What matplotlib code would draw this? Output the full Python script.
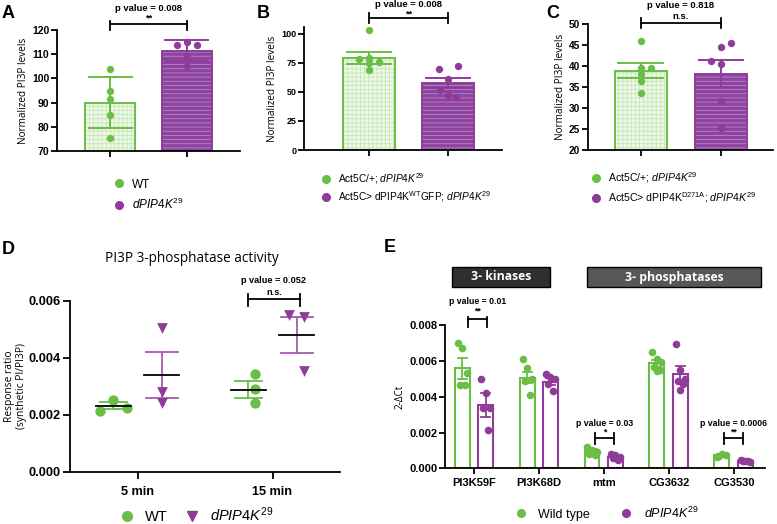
import matplotlib
matplotlib.use("Agg")
import matplotlib.pyplot as plt
from matplotlib.lines import Line2D
from matplotlib.patches import Rectangle
import numpy as np

plt.rcParams['font.family'] = ['Liberation Sans', 'DejaVu Sans']
plt.rcParams['mathtext.fontset'] = 'custom'
plt.rcParams['mathtext.rm'] = 'Liberation Sans'
plt.rcParams['mathtext.it'] = 'Liberation Sans:italic'
plt.rcParams['mathtext.bf'] = 'Liberation Sans:bold'
plt.rcParams['hatch.linewidth'] = 0.6

# ---------------- data ----------------
# A
a_wt = [104, 94.7, 91.5, 85, 75.5]
a_mut = [114, 115, 114, 109, 105]
a_mean = [90, 111.5]
a_err = [10.6, 4.2]
a_pval = "p value = 0.008"
a_star = "**"

# B
b_wt = [103, 78, 79, 76, 75, 69]
b_mut = [69.5, 72.4, 61.2, 52, 47, 46]
b_mean = [79, 58]
b_err = [5.3, 4.2]
b_pval = "p value = 0.008"
b_star = "**"

# C
c_wt = [46.0, 39.5, 39.6, 38.1, 36.5, 33.6]
c_mut = [45.5, 44.5, 41.3, 40.5, 31.7, 25.3]
c_mean = [38.9, 38.2]
c_err = [1.7, 3.3]
c_pval = "p value = 0.818"
c_star = "n.s."

# D
d_times = ["5 min", "15 min"]
d_wt = [[0.00214, 0.00252, 0.00225], [0.00343, 0.00289, 0.00240]]
d_mut = [[0.00503, 0.00281, 0.00242], [0.00550, 0.00544, 0.00354]]
d_wt_mean = [0.00232, 0.00287]
d_wt_err = [0.00011, 0.00030]
d_mut_mean = [0.00339, 0.00480]
d_mut_lo = [0.00258, 0.00415]
d_mut_hi = [0.00421, 0.00542]
d_pval = "p value = 0.052"
d_star = "n.s."

# E
e_genes = ["PI3K59F", "PI3K68D", "mtm", "CG3632", "CG3530"]
e_wt = [[0.0070, 0.00671, 0.00531, 0.00466, 0.00466],
        [0.0061, 0.0056, 0.0050, 0.0049, 0.0041],
        [0.00121, 0.00102, 0.00093, 0.00078, 0.00074],
        [0.00649, 0.0061, 0.00596, 0.00568, 0.0055, 0.00546],
        [0.00065, 0.0008, 0.00074, 0.0007]]
e_mut = [[0.0050, 0.0042, 0.00336, 0.00336, 0.00214],
         [0.0053, 0.0051, 0.0050, 0.0047, 0.0043],
         [0.0008, 0.00074, 0.00065, 0.0006, 0.00046],
         [0.00695, 0.0055, 0.00498, 0.0049, 0.00471, 0.00438],
         [0.00045, 0.0004, 0.00038, 0.00042, 0.0004]]
e_wt_mean = [0.0056, 0.00507, 0.00100, 0.00587, 0.00074]
e_wt_err = [0.00058, 0.0003, 0.0001, 0.00018, 0.00004]
e_mut_mean = [0.00354, 0.00485, 0.00066, 0.00527, 0.00040]
e_mut_err = [0.00069, 0.00018, 0.00006, 0.00045, 0.00002]
e_pvals = {0: ("p value = 0.01", "**"), 2: ("p value = 0.03", "*"), 4: ("p value = 0.0006", "**")}

# ---------------- style ----------------
GREEN = '#6abd45'
PURPLE = '#8e3c97'
GREEN_FILL = '#eef8e8'
GREEN_HATCH = '#c6e7b5'
PURPLE_FILL = '#8f43a0'
PURPLE_HATCH = '#b88ac2'
W, H = 777, 524

fig = plt.figure(figsize=(W / 100, H / 100), dpi=100)


def add_ax(left, top, right, bottom):
    return fig.add_axes([left / W, 1 - bottom / H, (right - left) / W, (bottom - top) / H])


def style(ax, size):
    for s in ['top', 'right']:
        ax.spines[s].set_visible(False)
    for s in ['left', 'bottom']:
        ax.spines[s].set_linewidth(1.3)
    ax.tick_params(width=1.3, length=4, labelsize=size, pad=1.5)
    for t in ax.get_yticklabels() + ax.get_xticklabels():
        t.set_fontweight('bold')


def bracket(ax, x0, x1, yline, ylo, yhi, ytxt1, ytxt2, p, star, size):
    ax.plot([x0, x1], [yline, yline], color='k', lw=1.3, clip_on=False)
    ax.plot([x0, x0], [ylo, yhi], color='k', lw=1.3, clip_on=False)
    ax.plot([x1, x1], [ylo, yhi], color='k', lw=1.3, clip_on=False)
    xm = (x0 + x1) / 2
    ax.text(xm, ytxt1, p, ha='center', va='center', fontsize=size, fontweight='bold')
    ax.text(xm, ytxt2, star, ha='center', va='center', fontsize=size, fontweight='bold')


def hatched_bars(ax, means, width):
    ax.bar(0, means[0], width, color=GREEN_FILL, edgecolor=GREEN_HATCH, hatch='++++', linewidth=0, zorder=1)
    ax.bar(1, means[1], width, color=PURPLE_FILL, edgecolor=PURPLE_HATCH, hatch='----', linewidth=0, zorder=1)
    ax.bar([0, 1], means, width, fill=False, edgecolor=[GREEN, PURPLE], linewidth=1.4, zorder=2)


def err(ax, x, m, lo, hi, cap, color, lw=1.4, z=3):
    ax.plot([x, x], [lo, hi], color=color, lw=lw, zorder=z)
    ax.plot([x - cap, x + cap], [lo, lo], color=color, lw=lw, zorder=z)
    ax.plot([x - cap, x + cap], [hi, hi], color=color, lw=lw, zorder=z)


def dots(ax, x, vals, offs, color, s, marker='o'):
    xs = [x + offs[i % len(offs)] for i in range(len(vals))]
    ax.scatter(xs, vals, s=s, color=color, marker=marker, zorder=4, linewidths=0)


def mut_label():
    return r'$\mathit{dPIP4K}^{\mathit{29}}$'


# ---------------- A ----------------
ax = add_ax(57, 30, 240, 151)
hatched_bars(ax, a_mean, 0.65)
err(ax, 0, a_mean[0], a_mean[0] - a_err[0], a_mean[0] + a_err[0], 0.28, GREEN)
err(ax, 1, a_mean[1], a_mean[1] - a_err[1], a_mean[1] + a_err[1], 0.28, PURPLE)
dots(ax, 0, a_wt, [0, 0, 0, 0, 0], GREEN, 28)
dots(ax, 1, a_mut, [-0.13, 0, 0.13, 0, 0], PURPLE, 28)
ax.set_xlim(-0.69, 1.69)
ax.set_ylim(70, 120)
ax.set_yticks(np.arange(70, 121, 10))
ax.set_xticks([0, 1])
ax.set_xticklabels([])
ax.set_ylabel('Normalized PI3P levels', fontsize=7.2, family='Open Sans', labelpad=2)
style(ax, 7.5)
bracket(ax, 0, 1, 122.5, 120, 123.9, 129, 125, a_pval, a_star, 6.8)
ax.legend([Line2D([], [], marker='o', ls='', color=GREEN, ms=5.5),
           Line2D([], [], marker='o', ls='', color=PURPLE, ms=5.5)],
          ['WT', mut_label()], loc='upper left', bbox_to_anchor=(101 / W, 1 - 168 / H),
          bbox_transform=fig.transFigure, frameon=False, fontsize=8.5, handletextpad=0.5,
          handlelength=1.2, labelspacing=0.55)
fig.text(2 / W, 1 - 14 / H, 'A', fontsize=13, fontweight='bold', va='center')

# ---------------- B ----------------
ax = add_ax(304, 27, 502, 150)
hatched_bars(ax, b_mean, 0.65)
err(ax, 0, b_mean[0], b_mean[0] - b_err[0], b_mean[0] + b_err[0], 0.28, GREEN)
err(ax, 1, b_mean[1], b_mean[1] - b_err[1], b_mean[1] + b_err[1], 0.28, PURPLE)
dots(ax, 0, b_wt, [0, -0.13, 0, 0.13, 0, 0], GREEN, 28)
dots(ax, 1, b_mut, [-0.12, 0.13, 0, -0.1, 0, 0.1], PURPLE, 28)
ax.set_xlim(-0.82, 1.68)
ax.set_ylim(0, 106)
ax.set_yticks([0, 25, 50, 75, 100])
ax.set_xticks([0, 1])
ax.set_xticklabels([])
ax.set_ylabel('Normalized PI3P levels', fontsize=7.2, family='Open Sans', labelpad=2)
style(ax, 6.5)
bracket(ax, 0, 1, 113.8, 109.5, 118.1, 125, 117.2, b_pval, b_star, 6.8)
ax.legend([Line2D([], [], marker='o', ls='', color=GREEN, ms=5.5),
           Line2D([], [], marker='o', ls='', color=PURPLE, ms=5.5)],
          [r'Act5C/+; ' + mut_label(),
           r'Act5C> dPIP4K$^{\mathrm{WT}}$GFP; ' + mut_label()],
          loc='upper left', bbox_to_anchor=(311 / W, 1 - 162 / H),
          bbox_transform=fig.transFigure, frameon=False, fontsize=7.3, handletextpad=0.6,
          handlelength=1.2, labelspacing=0.35)
fig.text(257 / W, 1 - 14 / H, 'B', fontsize=13, fontweight='bold', va='center')

# ---------------- C ----------------
ax = add_ax(588, 24, 773, 150)
hatched_bars(ax, c_mean, 0.65)
err(ax, 0, c_mean[0], c_mean[0] - c_err[0], c_mean[0] + c_err[0], 0.28, GREEN)
err(ax, 1, c_mean[1], c_mean[1] - c_err[1], c_mean[1] + c_err[1], 0.28, PURPLE)
dots(ax, 0, c_wt, [0, 0, 0.13, 0, 0, 0], GREEN, 28)
dots(ax, 1, c_mut, [0.12, 0, -0.12, 0, 0, 0], PURPLE, 28)
ax.set_xlim(-0.66, 1.65)
ax.set_ylim(20, 50)
ax.set_yticks(np.arange(20, 51, 5))
ax.set_xticks([0, 1])
ax.set_xticklabels([])
ax.set_ylabel('Normalized PI3P levels', fontsize=7.2, family='Open Sans', labelpad=2)
style(ax, 7.3)
bracket(ax, 0, 1, 50.2, 49.0, 51.4, 54.3, 51.8, c_pval, c_star, 6.8)
ax.legend([Line2D([], [], marker='o', ls='', color=GREEN, ms=5.5),
           Line2D([], [], marker='o', ls='', color=PURPLE, ms=5.5)],
          [r'Act5C/+; ' + mut_label(),
           r'Act5C> dPIP4K$^{\mathrm{D271A}}$; ' + mut_label()],
          loc='upper left', bbox_to_anchor=(580 / W, 1 - 161 / H),
          bbox_transform=fig.transFigure, frameon=False, fontsize=7.6, handletextpad=0.6,
          handlelength=1.2, labelspacing=0.5)
fig.text(546 / W, 1 - 14 / H, 'C', fontsize=13, fontweight='bold', va='center')

# ---------------- D ----------------
ax = add_ax(70, 300.7, 340, 471.7)
x = np.arange(len(d_times))
wt_offs = [[-0.1, 0.0, 0.1], [0.05, 0.05, 0.05]]
mut_offs = [[0.0, 0.0, 0.0], [-0.06, 0.05, 0.05]]
for i in range(len(d_times)):
    xw = x[i] - 0.18
    xm = x[i] + 0.18
    err(ax, xw, d_wt_mean[i], d_wt_mean[i] - d_wt_err[i], d_wt_mean[i] + d_wt_err[i], 0.1, GREEN, lw=1.3)
    err(ax, xm, d_mut_mean[i], d_mut_lo[i], d_mut_hi[i], 0.12, '#a65bb0', lw=1.3)
    dots(ax, xw, d_wt[i], wt_offs[i], GREEN, 55)
    dots(ax, xm, d_mut[i], mut_offs[i], PURPLE, 60, marker='v')
    ax.plot([xw - 0.13, xw + 0.13], [d_wt_mean[i]] * 2, color='k', lw=1.3, zorder=5)
    ax.plot([xm - 0.13, xm + 0.13], [d_mut_mean[i]] * 2, color='k', lw=1.3, zorder=5)
ax.set_xlim(-0.5, 1.5)
ax.set_ylim(0, 0.006)
ax.set_yticks([0, 0.002, 0.004, 0.006])
ax.set_yticklabels(['0.000', '0.002', '0.004', '0.006'])
ax.set_xticks(x)
ax.set_xticklabels(d_times)
ax.set_ylabel('Response ratio\n(synthetic PI/PI3P)', fontsize=7.4, family='Open Sans', labelpad=1)
style(ax, 9.2)
ax.tick_params(axis='y', length=5)
ax.tick_params(axis='x', length=5, pad=5)
bracket(ax, 1 - 0.18, 1 + 0.2, 0.00606, 0.0058, 0.00623, 0.00672, 0.0063, d_pval, d_star, 6.6)
ax.set_title('PI3P 3-phosphatase activity', fontsize=9.8, family='Open Sans', pad=28, x=0.45)
ax.legend([Line2D([], [], marker='o', ls='', color=GREEN, ms=7),
           Line2D([], [], marker='v', ls='', color=PURPLE, ms=7)],
          ['WT', mut_label()], loc='center', bbox_to_anchor=(196 / W, 1 - 515 / H),
          bbox_transform=fig.transFigure, frameon=False, fontsize=10.5, ncol=2,
          handletextpad=0.6, handlelength=1.2, columnspacing=1.1)
fig.text(2 / W, 1 - 249 / H, 'D', fontsize=13, fontweight='bold', va='center')

# ---------------- E ----------------
ax = add_ax(445, 325.3, 765, 468.3)
xe = np.arange(len(e_genes))
bw = 0.23
e_offs = [-0.07, 0.0, 0.07, -0.04, 0.04, 0.0]
ax.bar(xe - 0.185, e_wt_mean, bw, color='white', edgecolor=GREEN, linewidth=1.5, zorder=1)
ax.bar(xe + 0.175, e_mut_mean, bw, color='white', edgecolor=PURPLE, linewidth=1.5, zorder=1)
for i in range(len(e_genes)):
    err(ax, xe[i] - 0.185, e_wt_mean[i], e_wt_mean[i] - e_wt_err[i], e_wt_mean[i] + e_wt_err[i], 0.07, GREEN, lw=1.3)
    err(ax, xe[i] + 0.175, e_mut_mean[i], e_mut_mean[i] - e_mut_err[i], e_mut_mean[i] + e_mut_err[i], 0.07, PURPLE, lw=1.3)
    dots(ax, xe[i] - 0.185, e_wt[i], e_offs, GREEN, 30)
    dots(ax, xe[i] + 0.175, e_mut[i], e_offs, PURPLE, 30)
ax.set_xlim(-0.45, 4.48)
ax.set_ylim(0, 0.008)
ax.set_yticks([0, 0.002, 0.004, 0.006, 0.008])
ax.set_yticklabels(['0.000', '0.002', '0.004', '0.006', '0.008'])
ax.set_xticks(xe)
ax.set_xticklabels(e_genes)
ax.set_ylabel('2-ΔCt', fontsize=7.2, family='Open Sans', labelpad=3)
style(ax, 8)
ax.tick_params(axis='x', pad=3)
bracket(ax, -0.1, 0.2, 0.00835, 0.00789, 0.00848, 0.00931, 0.00881, e_pvals[0][0], e_pvals[0][1], 6.3)
bracket(ax, 2 - 0.14, 2 + 0.15, 0.00169, 0.00136, 0.00196, 0.00252, 0.00205, e_pvals[2][0], e_pvals[2][1], 6.3)
bracket(ax, 4 - 0.15, 4 + 0.14, 0.00169, 0.00136, 0.00196, 0.00252, 0.00205, e_pvals[4][0], e_pvals[4][1], 6.3)
ax.legend([Line2D([], [], marker='o', ls='', color=GREEN, ms=5.5),
           Line2D([], [], marker='o', ls='', color=PURPLE, ms=5.5)],
          ['Wild type', mut_label()], loc='center', bbox_to_anchor=(606 / W, 1 - 513 / H),
          bbox_transform=fig.transFigure, frameon=False, fontsize=9, ncol=2,
          handletextpad=0.8, handlelength=1.2, columnspacing=2.3)
fig.text(384 / W, 1 - 248 / H, 'E', fontsize=13, fontweight='bold', va='center')

# header boxes
for (x0, x1, fc, label) in [(452, 550, '#2f2f2f', '3- kinases'), (587, 761, '#575757', '3- phosphatases')]:
    fig.patches.append(Rectangle((x0 / W, 1 - 286.5 / H), (x1 - x0) / W, 19.5 / H,
                                 transform=fig.transFigure, facecolor=fc, edgecolor='k', linewidth=1.0))
    fig.text((x0 + x1) / 2 / W, 1 - 277 / H, label, color='white', fontsize=8.8,
             family='Open Sans', fontweight='bold', ha='center', va='center')

fig.savefig('out.png', dpi=100)
